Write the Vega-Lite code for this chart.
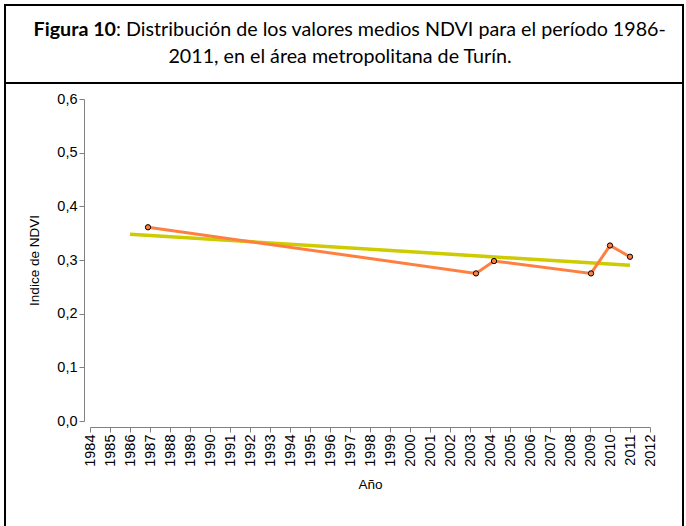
{
  "$schema": "https://vega.github.io/schema/vega-lite/v6.json",
  "padding": {"left": 4, "top": 4, "right": 2, "bottom": 0},
  "background": "white",
  "spacing": 0,
  "bounds": "flush",
  "config": {
    "view": {"stroke": "black", "strokeWidth": 2},
    "font": "Liberation Sans"
  },
  "datasets": {
    "ndvi": [
      {"anio": 1986.9, "ndvi": 0.361},
      {"anio": 2003.3, "ndvi": 0.275},
      {"anio": 2004.2, "ndvi": 0.298},
      {"anio": 2009.05, "ndvi": 0.275},
      {"anio": 2010, "ndvi": 0.327},
      {"anio": 2011, "ndvi": 0.306}
    ],
    "tendencia": [
      {"anio": 1986, "ndvi": 0.348},
      {"anio": 2011, "ndvi": 0.290}
    ]
  },
  "vconcat": [
    {
      "width": 678,
      "height": 78,
      "encoding": {
        "x": {"datum": 0, "type": "quantitative", "scale": {"domain": [-1, 1]}, "axis": null},
        "y": {"datum": 0, "type": "quantitative", "scale": {"domain": [-1, 1]}, "axis": null}
      },
      "layer": [
        {
          "data": {"values": [{"t": "Figura 10"}]},
          "mark": {"type": "text", "font": "Lato", "fontSize": 19.7, "fontWeight": "bold", "align": "right", "baseline": "middle", "dx": -228, "dy": -14, "color": "black"},
          "encoding": {"text": {"field": "t"}}
        },
        {
          "data": {"values": [{"t": ": Distribución de los valores medios NDVI para el período 1986-"}]},
          "mark": {"type": "text", "font": "Lato", "fontSize": 19.7, "align": "left", "baseline": "middle", "dx": -228, "dy": -14, "color": "black"},
          "encoding": {"text": {"field": "t"}}
        },
        {
          "data": {"values": [{"t": "2011, en el área metropolitana de Turín."}]},
          "mark": {"type": "text", "font": "Lato", "fontSize": 19.7, "align": "center", "baseline": "middle", "dx": -4, "dy": 13, "color": "black"},
          "encoding": {"text": {"field": "t"}}
        }
      ]
    },
    {
      "width": 678,
      "height": 500,
      "layer": [
        {
          "data": {"name": "tendencia"},
          "mark": {"type": "line", "color": "#CCCC00", "strokeWidth": 3.5},
          "encoding": {
            "x": {
              "field": "anio", "type": "quantitative",
              "scale": {"domain": [1984, 2012], "range": [85, 645], "nice": false, "zero": false},
              "axis": {
                "title": "Año",
                "values": [1984, 1985, 1986, 1987, 1988, 1989, 1990, 1991, 1992, 1993, 1994, 1995, 1996, 1997, 1998, 1999, 2000, 2001, 2002, 2003, 2004, 2005, 2006, 2007, 2008, 2009, 2010, 2011, 2012],
                "tickCount": 40,
                "format": "d",
                "labelAngle": -90,
                "labelOverlap": false,
                "labelFlush": false,
                "offset": -156,
                "grid": false,
                "tickSize": 5,
                "labelPadding": 2,
                "labelFontSize": 14.5,
                "labelFont": "Liberation Sans",
                "labelColor": "black",
                "titleFont": "Liberation Sans",
                "titleFontSize": 13.5,
                "titleFontWeight": "normal",
                "titleColor": "black",
                "titlePadding": 11,
                "domainColor": "#808080",
                "tickColor": "#808080"
              }
            },
            "y": {
              "field": "ndvi", "type": "quantitative",
              "scale": {"domain": [0, 0.6], "range": [338, 16], "nice": false, "zero": false},
              "axis": {
                "title": "Indice de NDVI",
                "values": [0, 0.1, 0.2, 0.3, 0.4, 0.5, 0.6],
                "tickCount": 20,
                "labelExpr": "replace(format(datum.value, '.1f'), '.', ',')",
                "offset": -79,
                "grid": false,
                "tickSize": 5,
                "labelPadding": 2,
                "labelFontSize": 14.5,
                "labelFont": "Liberation Sans",
                "labelColor": "black",
                "titleFont": "Liberation Sans",
                "titleFontSize": 13.5,
                "titleFontWeight": "normal",
                "titleColor": "black",
                "titlePadding": 15,
                "domainColor": "#808080",
                "tickColor": "#808080"
              }
            }
          }
        },
        {
          "data": {"name": "ndvi"},
          "mark": {"type": "line", "color": "#FF7F40", "strokeWidth": 3},
          "encoding": {
            "x": {"field": "anio", "type": "quantitative"},
            "y": {"field": "ndvi", "type": "quantitative"}
          }
        },
        {
          "data": {"name": "ndvi"},
          "mark": {"type": "point", "filled": true, "fill": "#FF7F40", "stroke": "black", "strokeWidth": 1, "size": 28, "opacity": 1},
          "encoding": {
            "x": {"field": "anio", "type": "quantitative"},
            "y": {"field": "ndvi", "type": "quantitative"}
          }
        }
      ]
    }
  ]
}
